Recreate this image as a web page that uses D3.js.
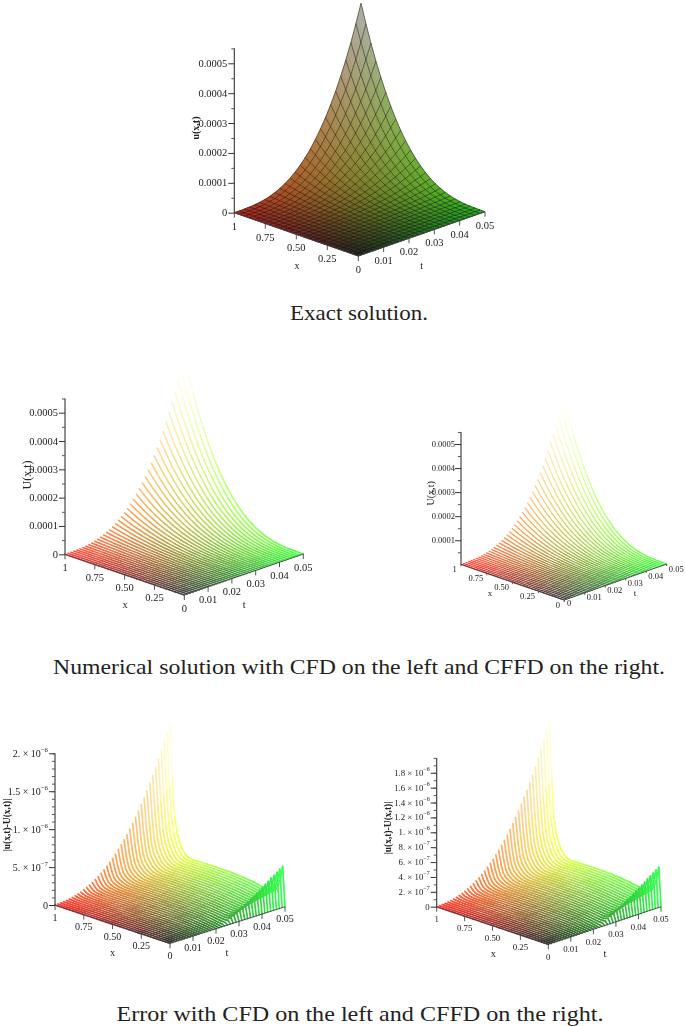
<!DOCTYPE html>
<html><head><meta charset="utf-8">
<script src="https://cdn.jsdelivr.net/npm/d3@7"></script>
<style>html,body{margin:0;padding:0;background:#fff}svg{display:block}text{font-family:"Liberation Serif",serif;fill:#222}</style>
</head><body><div id="c"></div>
<script>
// ---- values ----
const tMesh = [0,.001,.002,.003,.004,.005,.006,.007,.008,.009,.01,.011,.012,.013,.014,.015,.016,.017,.018,.019,.02,.021,.022,.023,.024,.025,.026,.027,.028,.029,.03,.031,.032,.033,.034,.035,.036,.037,.038,.039,.04,.041,.042,.043,.044,.045,.046,.047,.048,.049,.05];
const xNodes = [0,.04,.08,.12,.16,.2,.24,.28,.32,.36,.4,.44,.48,.52,.56,.6,.64,.68,.72,.76,.8,.84,.88,.92,.96,1];
// exact solution along t (at x=1), relative to the peak
const uAlongT = [0,0,0,0,.001,.002,.002,.003,.005,.007,.009,.012,.015,.019,.024,.03,.036,.043,.051,.059,.07,.08,.091,.104,.117,.132,.148,.165,.184,.203,.225,.248,.272,.297,.325,.353,.383,.415,.449,.484,.521,.56,.601,.643,.688,.735,.783,.834,.887,.942,1];
// solution along x (at t=0.05), relative to the peak
const uAlongX = [0,0,.001,.002,.004,.008,.014,.022,.033,.047,.064,.085,.111,.141,.176,.216,.262,.314,.373,.439,.512,.593,.681,.779,.885,1];
// the numerical plots are drawn as separate constant-t lines
const tLines = [0,.00125,.0025,.00375,.005,.00625,.0075,.00875,.01,.01125,.0125,.01375,.015,.01625,.0175,.01875,.02,.02125,.0225,.02375,.025,.02625,.0275,.02875,.03,.03125,.0325,.03375,.035,.03625,.0375,.03875,.04,.04125,.0425,.04375,.045,.04625,.0475,.04875,.05];
const uLineAlongT = [0,0,0,.001,.001,.002,.004,.006,.009,.013,.018,.024,.03,.038,.048,.058,.07,.084,.099,.115,.134,.154,.177,.201,.227,.256,.287,.32,.356,.394,.434,.478,.524,.572,.624,.679,.737,.798,.862,.929,1];
const uTicks = [0,.0001,.0002,.0003,.0004,.0005];
const uMinor = [.00005,.00015,.00025,.00035,.00045,.00055];
const uLabels = ["0","0.0001","0.0002","0.0003","0.0004","0.0005"];

// error surface: node positions and measured shapes
const xErrNodes = [0,.02,.04,.06,.08,.1,.14,.19,.28,.36,.44,.52,.6,.68,.76,.8,.84,.87,.9,.92,.94,.96,.98,1];
const spikeAlongX = [0,0,0,0,0,0,0,0,0,0,0,0,0,0,0,0,.01,.03,.07,.12,.18,.3,.58,1];
const plateauAlongX = [0,.1,.2,.28,.36,.45,.6,.73,.85,.92,.97,.99,1,1,.98,.97,.95,.94,.93,.92,.92,.91,.9,.9];
const cornerAlongX = [0,1,.62,.38,.22,.12,.04,0,0,0,0,0,0,0,0,0,0,0,0,0,0,0,0,0];
const spikeAlongT = [0,0,.001,.002,.003,.006,.009,.013,.018,.024,.031,.04,.049,.06,.073,.086,.101,.118,.136,.156,.177,.2,.224,.251,.279,.309,.341,.374,.41,.448,.487,.529,.572,.618,.666,.716,.768,.823,.88,.939,1];
const plateauAlongT = [0,.004,.011,.021,.032,.044,.058,.073,.089,.107,.125,.144,.164,.185,.207,.23,.253,.277,.302,.327,.354,.38,.408,.436,.465,.494,.524,.555,.586,.617,.65,.682,.716,.749,.784,.818,.854,.89,.926,.963,1];
const cornerAlongT = [0,0,0,0,0,0,0,0,0,0,0,0,0,0,0,0,0,0,0,.01,.03,.06,.1,.14,.18,.23,.27,.32,.37,.42,.47,.52,.57,.62,.68,.73,.79,.84,.89,.95,1];
const errTicksA = [0,5e-7,1e-6,1.5e-6,2e-6];
const errLabelsA = ["0",["5.","7"],["1.","6"],["1.5","6"],["2.","6"]];
const errTicksB = [0,2e-7,4e-7,6e-7,8e-7,1e-6,1.2e-6,1.4e-6,1.6e-6,1.8e-6];
const errLabelsB = ["0",["2.","7"],["4.","7"],["6.","7"],["8.","7"],["1.","6"],["1.2","6"],["1.4","6"],["1.6","6"],["1.8","6"]];
const errMinor = [1e-7,2e-7,3e-7,4e-7,5e-7,6e-7,7e-7,8e-7,9e-7,1e-6,1.1e-6,1.2e-6,1.3e-6,1.4e-6,1.5e-6,1.6e-6,1.7e-6,1.8e-6,1.9e-6,2e-6];
const xTickValues = [1,.75,.5,.25,0];
const xTickLabels = ["1","0.75","0.50","0.25","0"];
const tTickValues = [.01,.02,.03,.04,.05];
const tTickLabels = ["0.01","0.02","0.03","0.04","0.05"];
const captions = ["Exact solution.","Numerical solution with CFD on the left and CFFD on the right.","Error with CFD on the left and CFFD on the right."];

// ---- layout ----
const W = 685, H = 1026;
const svg = d3.select("#c").append("svg").attr("width",W).attr("height",H);
const defs = svg.append("defs");
[["soft",.55],["softer",.7]].forEach(([id,s]) => defs.append("filter").attr("id",id)
  .attr("x",-.1).attr("y",-.1).attr("width",1.2).attr("height",1.2)
  .append("feGaussianBlur").attr("stdDeviation",s));

const uMeshRows = uAlongT.map(a => uAlongX.map(b => a * b));
const uLineRows = uLineAlongT.map(a => uAlongX.map(b => a * b));
const eRows = (spike, plateau, corner) => spikeAlongT.map((_,j) => spikeAlongX.map((_,i) =>
  spike*spikeAlongT[j]*spikeAlongX[i] + plateau*plateauAlongT[j]*plateauAlongX[i] + corner*cornerAlongT[j]*cornerAlongX[i]));

function panel(o){
  const g = svg.append("g").attr("filter","url(#"+(o.filter||"soft")+")");
  const sxX = d3.scaleLinear([0,1],[0,o.left[0]-o.front[0]]), syX = d3.scaleLinear([0,1],[0,o.left[1]-o.front[1]]);
  const sxT = d3.scaleLinear([0,.05],[0,o.right[0]-o.front[0]]), syT = d3.scaleLinear([0,.05],[0,o.right[1]-o.front[1]]);
  const zS = d3.scaleLinear([0,o.zRef],[o.left[1],o.zRefY]);
  const zH = v => zS(0)-zS(v);
  const P = (x,t,z) => [o.front[0]+sxX(x)+sxT(t), o.front[1]+syX(x)+syT(t)-zH(z)];
  const rgb = (x,t,z) => {
    const f = c => Math.round(255*Math.min(1,o.floor+o.gain*c));
    return `rgb(${f(x)},${f(t/.05)},${f(z/o.zMax)})`;
  };
  const line = d3.line();
  const surf = g.append("g");
  if(o.surface){
    for(let j=tMesh.length-2;j>=0;j--) for(let i=xNodes.length-2;i>=0;i--){
      const h=o.rows, c=[P(xNodes[i],tMesh[j],h[j][i]),P(xNodes[i+1],tMesh[j],h[j][i+1]),P(xNodes[i+1],tMesh[j+1],h[j+1][i+1]),P(xNodes[i],tMesh[j+1],h[j+1][i])];
      const col=rgb((xNodes[i]+xNodes[i+1])/2,tMesh[j]+.0005,(h[j][i]+h[j+1][i+1]+h[j][i+1]+h[j+1][i])/4);
      surf.append("path").attr("d",line(c)+"Z").attr("fill",col).attr("stroke",col).attr("stroke-width",.6);
    }
    const mesh=g.append("g").attr("fill","none").attr("stroke","#14140c").attr("stroke-opacity",.58).attr("stroke-width",.85);
    tMesh.forEach((t,j)=>{ if(j%2==0) mesh.append("path").attr("d",line(xNodes.map((x,i)=>P(x,t,o.rows[j][i])))); });
    xNodes.forEach((x,i)=>{ mesh.append("path").attr("d",line(tMesh.map((t,j)=>P(x,t,o.rows[j][i])))); });
  } else {
    const nodes=o.nodes;
    for(let j=tLines.length-1;j>=0;j--){
      const row=o.rows[j];
      for(let i=nodes.length-2;i>=0;i--){
        surf.append("path").attr("d",line([P(nodes[i+1],tLines[j],row[i+1]),P(nodes[i],tLines[j],row[i])]))
          .attr("fill","none").attr("stroke-linecap","round")
          .attr("stroke",rgb((nodes[i]+nodes[i+1])/2,tLines[j],(row[i]+row[i+1])/2)).attr("stroke-width",o.sw);
      }
    }
  }
  // ground edges
  const ax=g.append("g").attr("stroke","#444").attr("stroke-width",.9).attr("fill","none");
  ax.append("path").attr("d",line([P(1,0,0),P(0,0,0),P(0,.05,0)]));
  // vertical axis
  const zTop = o.left[1]-zH(o.zTop);
  const zAxis=d3.axisLeft(zS).tickValues(o.zTicks).tickSize(6).tickFormat("");
  const zg=g.append("g").attr("transform",`translate(${o.left[0]},0)`).call(zAxis);
  zg.select(".domain").attr("d",`M0,${zS(0)}V${zTop}`).attr("stroke","#333").attr("stroke-width",1.1);
  zg.selectAll(".tick line").attr("stroke","#333");
  const zm=g.append("g").attr("transform",`translate(${o.left[0]},0)`).call(d3.axisLeft(zS).tickValues(o.zMinor).tickSize(3).tickFormat(""));
  zm.select(".domain").remove(); zm.selectAll(".tick line").attr("stroke","#555");
  o.zLabels.forEach((lab,k)=>{
    const t=g.append("text").attr("x",o.left[0]-(lab==="0"?o.zeroGap||7:o.labGap||7)).attr("y",zS(o.zTicks[k])).attr("dominant-baseline","central")
      .attr("text-anchor","end").attr("font-size",o.fs);
    if(Array.isArray(lab)){
      t.append("tspan").text(lab[0]+" \u00d7 10");
      t.append("tspan").attr("dy",-4).attr("font-size",o.fs*.68).text("\u2212"+lab[1]);
    } else t.text(lab);
  });
  // x and t ticks
  const tickLen=o.tickLen==null?5:o.tickLen;
  xTickValues.forEach((x,k)=>{
    const p=P(x,0,0), end=x===1||x===0;
    ax.append("path").attr("d",`M${p[0]},${p[1]}v${tickLen}`);
    const off=end&&o.xEnd?o.xEnd:o.xOff;
    g.append("text").attr("x",p[0]+off[0]).attr("y",p[1]+off[1]).attr("text-anchor","middle").attr("dominant-baseline","central").attr("font-size",o.fs).text(xTickLabels[k]);
  });
  if(o.tZero){ const p=P(0,0,0); g.append("text").attr("x",p[0]+o.tZero[0]).attr("y",p[1]+o.tZero[1]).attr("text-anchor","middle").attr("dominant-baseline","central").attr("font-size",o.fs).text("0"); }
  tTickValues.forEach((t,k)=>{
    const p=P(0,t,0);
    ax.append("path").attr("d",`M${p[0]},${p[1]}v${tickLen}`);
    g.append("text").attr("x",p[0]+o.tOff[0]).attr("y",p[1]+o.tOff[1]).attr("text-anchor","middle").attr("dominant-baseline","central").attr("font-size",o.fs).text(tTickLabels[k]);
  });
  // titles
  const tt=(x,y,s,fs)=>g.append("text").attr("x",x).attr("y",y).attr("text-anchor","middle").attr("dominant-baseline","central").attr("font-size",fs).text(s);
  tt(o.xT[0],o.xT[1],"x",o.titleFs);
  tt(o.tT[0],o.tT[1],"t",o.titleFs);
  g.append("text").attr("transform",`translate(${o.yT[0]},${o.yT[1]}) rotate(-90)`).attr("text-anchor","middle").attr("dominant-baseline","central")
    .attr("font-size",o.yFs||o.titleFs).attr("font-weight",o.yW||"normal").text(o.yTitle);
}

panel({surface:true,rows:uMeshRows.map(r=>r.map(v=>v*.000553)),left:[234.3,212.7],front:[358.3,256],right:[485,211.7],
  zRef:.0005,zRefY:63.3,zTop:.00055,zMax:.000553,zTicks:uTicks,zMinor:uMinor,zLabels:uLabels,fs:10.5,floor:.12,gain:.56,filter:"softer",
  xOff:[0,13.5],tOff:[0,13.5],xT:[297,265],tT:[421.7,265],yT:[195,128],yTitle:"u(x,t)",titleFs:10,yW:"bold"});

panel({rows:uLineRows.map(r=>r.map(v=>v*.00055)),nodes:xNodes,left:[65,554.3],front:[184.3,595],right:[303.3,554],sw:1.55,
  zRef:.0005,zRefY:412.7,zTop:.00055,zMax:.00055,zTicks:uTicks,zMinor:uMinor,zLabels:uLabels,fs:10.5,floor:.25,gain:.78,
  xOff:[0,13],tOff:[0,13],xT:[125,604],tT:[244.3,604],yT:[26.7,475],yTitle:"U(x,t)",titleFs:10.5,yFs:12});

panel({rows:uLineRows.map(r=>r.map(v=>v*.00055)),nodes:xNodes,left:[461,564.3],front:[564.3,600],right:[666.7,564],sw:1.3,
  zRef:.0005,zRefY:444,zTop:.00055,zMax:.00055,zTicks:uTicks.slice(1),zMinor:uMinor,zLabels:uLabels.slice(1),fs:8.5,floor:.25,gain:.78,labGap:6,
  tickLen:2,xOff:[-11,5],xEnd:[-6.5,4.5],tOff:[9.5,4.5],tZero:[4.7,3.3],xT:[490,592.7],tT:[635,592.7],yT:[430,493.3],yTitle:"U(x,t)",titleFs:9,yFs:10});

panel({rows:eRows(1.71e-6,.22e-6,.5e-6),nodes:xErrNodes,left:[55,905],front:[170,943.3],right:[285,906.7],sw:1.7,
  zRef:2e-6,zRefY:753.3,zTop:2e-6,zMax:1.93e-6,zTicks:errTicksA,zMinor:errMinor,zLabels:errLabelsA,fs:10,floor:.2,gain:.82,
  xOff:[0,12],tOff:[0,12],xT:[112.7,952.7],tT:[227,952.7],yT:[7,825],yTitle:"|u(x,t)-U(x,t)|",titleFs:10.5,yFs:9.5,yW:"bold"});

panel({rows:eRows(1.78e-6,.22e-6,.5e-6),nodes:xErrNodes,left:[436.7,906.7],front:[548.3,944.3],right:[661,906.7],sw:1.7,
  zRef:1e-6,zRefY:832.3,zTop:2e-6,zMax:2e-6,zTicks:errTicksB,zMinor:errMinor,zLabels:errLabelsB,fs:8.8,floor:.2,gain:.82,
  xOff:[0,12.3],tOff:[0,12.3],xT:[493.3,953.3],tT:[605,953.3],yT:[388.3,828],yTitle:"|u(x,t)-U(x,t)|",titleFs:10.5,yFs:9.5,yW:"bold"});

// captions
[[359,313,138,captions[0]],[359,667,612,captions[1]],[360,1014,487,captions[2]]].forEach(([x,y,w,s])=>{
  svg.append("text").attr("x",x).attr("y",y).attr("text-anchor","middle").attr("dominant-baseline","central")
    .attr("font-size",21).attr("textLength",w).attr("lengthAdjust","spacingAndGlyphs").attr("fill","#111").text(s);
});
</script></body></html>
